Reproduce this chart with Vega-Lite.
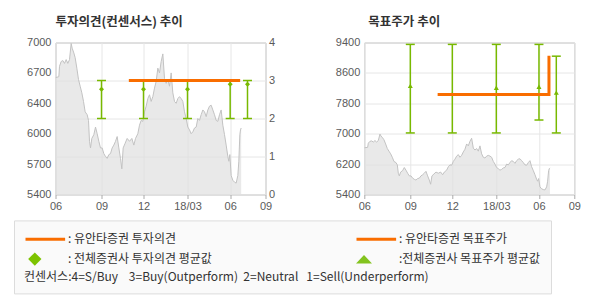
{
  "$schema": "https://vega.github.io/schema/vega-lite/v6.json",
  "background": "white",
  "padding": {"left": 12.5, "top": 15.5, "right": 5, "bottom": 0},
  "config": {
    "view": {"stroke": "#b4b4b4", "strokeWidth": 1},
    "axis": {"labelFont": "Liberation Sans", "labelFontSize": 11, "labelColor": "#5a5a5a", "domain": false, "ticks": false, "gridColor": "#e6e6e6", "gridWidth": 1, "labelOverlap": false},
    "title": {"font": "Noto Sans CJK KR", "fontSize": 12.5, "fontWeight": "bold", "color": "#333333"}
  },
  "datasets": {
    "price": [
      {"day": 0, "price": 6630}, {"day": 5, "price": 6640}, {"day": 6, "price": 6750}, {"day": 8.5, "price": 6800},
      {"day": 11, "price": 6810}, {"day": 13.5, "price": 6780}, {"day": 16, "price": 6820}, {"day": 18.5, "price": 6780},
      {"day": 21, "price": 6820}, {"day": 23.5, "price": 6990}, {"day": 25, "price": 6940}, {"day": 27.5, "price": 6890},
      {"day": 29.5, "price": 6840}, {"day": 32, "price": 6730}, {"day": 34.5, "price": 6610}, {"day": 37, "price": 6540},
      {"day": 39.5, "price": 6470}, {"day": 42, "price": 6380}, {"day": 44.5, "price": 6270}, {"day": 47.5, "price": 6240},
      {"day": 49.5, "price": 6180}, {"day": 51, "price": 5960}, {"day": 52.5, "price": 5890}, {"day": 54.5, "price": 5990},
      {"day": 57.5, "price": 6030}, {"day": 60, "price": 6110}, {"day": 62.5, "price": 6040}, {"day": 65, "price": 5960},
      {"day": 67.5, "price": 5890}, {"day": 70, "price": 5890}, {"day": 72.5, "price": 5830}, {"day": 75, "price": 5800},
      {"day": 77.5, "price": 5780}, {"day": 80, "price": 5820}, {"day": 82.5, "price": 5830}, {"day": 85, "price": 5890},
      {"day": 87.5, "price": 5920}, {"day": 90, "price": 5960}, {"day": 92.5, "price": 6010}, {"day": 95, "price": 5890},
      {"day": 97.5, "price": 5780}, {"day": 99.5, "price": 5670}, {"day": 101.5, "price": 5890}, {"day": 104.5, "price": 5940},
      {"day": 107.5, "price": 5990}, {"day": 111, "price": 5960}, {"day": 114.5, "price": 5990}, {"day": 117.5, "price": 5920},
      {"day": 120, "price": 5990}, {"day": 123.5, "price": 6040}, {"day": 126, "price": 6130}, {"day": 128.5, "price": 6180},
      {"day": 131, "price": 6170}, {"day": 133.5, "price": 6270}, {"day": 136, "price": 6330}, {"day": 138.5, "price": 6410},
      {"day": 141, "price": 6450}, {"day": 143.5, "price": 6380}, {"day": 146, "price": 6430}, {"day": 148.5, "price": 6520},
      {"day": 151, "price": 6590}, {"day": 153.5, "price": 6730}, {"day": 156, "price": 6680}, {"day": 158.5, "price": 6800},
      {"day": 161, "price": 6880}, {"day": 163.5, "price": 6620}, {"day": 166, "price": 6570}, {"day": 168.5, "price": 6610},
      {"day": 171, "price": 6540}, {"day": 173.5, "price": 6680}, {"day": 176, "price": 6470}, {"day": 178.5, "price": 6380},
      {"day": 181, "price": 6360}, {"day": 183.5, "price": 6410}, {"day": 186, "price": 6430}, {"day": 188.5, "price": 6410},
      {"day": 191, "price": 6380}, {"day": 193.5, "price": 6270}, {"day": 196, "price": 6200}, {"day": 198.5, "price": 6110},
      {"day": 201, "price": 6080}, {"day": 203.5, "price": 6040}, {"day": 206, "price": 6060}, {"day": 208.5, "price": 6100},
      {"day": 211, "price": 6110}, {"day": 213.5, "price": 6200}, {"day": 216, "price": 6180}, {"day": 218.5, "price": 6240},
      {"day": 221, "price": 6290}, {"day": 223.5, "price": 6270}, {"day": 226, "price": 6220}, {"day": 228.5, "price": 6290},
      {"day": 231, "price": 6330}, {"day": 233.5, "price": 6340}, {"day": 236, "price": 6290}, {"day": 238.5, "price": 6240},
      {"day": 241, "price": 6180}, {"day": 243.5, "price": 6170}, {"day": 246, "price": 6240}, {"day": 248.5, "price": 6290},
      {"day": 251, "price": 6130}, {"day": 253.5, "price": 6030}, {"day": 256, "price": 5920}, {"day": 258.5, "price": 5800},
      {"day": 260, "price": 5750}, {"day": 261.5, "price": 5820}, {"day": 263.5, "price": 5600}, {"day": 266, "price": 5550},
      {"day": 268.5, "price": 5530}, {"day": 271, "price": 5520}, {"day": 273.5, "price": 5600}, {"day": 275, "price": 5750},
      {"day": 276.5, "price": 6030}, {"day": 277.5, "price": 6080}, {"day": 278.5, "price": 6100}
    ],
    "opinion": [
      {"day": 69, "lo": 2, "hi": 3, "mean": 2.77},
      {"day": 132, "lo": 2, "hi": 3, "mean": 2.77},
      {"day": 198, "lo": 2, "hi": 3, "mean": 2.77},
      {"day": 262, "lo": 2, "hi": 3, "mean": 2.9},
      {"day": 288, "lo": 2, "hi": 3, "mean": 2.9}
    ],
    "yuanta_opinion": [{"day": 110, "op": 3}, {"day": 277, "op": 3}],
    "target": [
      {"day": 69, "lo": 7020, "hi": 9350, "mean": 8260},
      {"day": 132, "lo": 7020, "hi": 9350, "mean": 8050},
      {"day": 198, "lo": 7020, "hi": 9350, "mean": 8210},
      {"day": 262, "lo": 7360, "hi": 9350, "mean": 8235},
      {"day": 288, "lo": 7020, "hi": 9040, "mean": 8080}
    ],
    "yuanta_target": [{"day": 110, "tp": 8030}, {"day": 277, "tp": 9050}],
    "legend": [
      {"series": "유안타증권 투자의견"},
      {"series": "전체증권사 투자의견 평균값"},
      {"series": "유안타증권 목표주가"},
      {"series": "전체증권사 목표주가 평균값"}
    ]
  },
  "bounds": "flush",
  "spacing": 98.8,
  "resolve": {"scale": {"fill": "independent", "stroke": "independent", "shape": "independent"}},
  "hconcat": [
    {
      "width": 210,
      "height": 152,
      "title": {"text": "투자의견(컨센서스) 추이", "anchor": "start", "frame": "group", "offset": 8},
      "encoding": {
        "x": {"field": "day", "type": "quantitative", "title": null,
          "scale": {"domain": [0, 315], "nice": false, "zero": false},
          "axis": {"values": [0, 69, 132, 198, 262, 315], "tickCount": 10, "labelExpr": "['06','09','12','18/03','06','09'][indexof([0,69,132,198,262,315], datum.value)]", "grid": true, "ticks": true, "tickSize": 4, "tickColor": "#aaaaaa", "labelPadding": 2, "labelFlush": false, "labelOverlap": false}}
      },
      "layer": [
        {
          "data": {"name": "price"},
          "mark": {"type": "area", "color": "#e0e0e0", "clip": true, "line": {"color": "#c2c2c2", "strokeWidth": 1}},
          "encoding": {
            "y": {"field": "price", "type": "quantitative", "title": null,
              "scale": {"domain": [5400, 7000], "nice": false, "zero": false},
              "axis": {"orient": "left", "values": [5400, 5720, 6040, 6360, 6680, 7000], "tickCount": 10, "labelExpr": "format(round(datum.value/100)*100, 'd')", "grid": false, "labelPadding": 4.5, "labelOverlap": false}}
          }
        },
        {
          "layer": [
            {
              "data": {"name": "opinion"},
              "mark": {"type": "rule", "color": "#78b900", "strokeWidth": 1.5},
              "encoding": {
                "y": {"field": "lo", "type": "quantitative", "title": null,
                  "scale": {"domain": [0, 4], "nice": false, "zero": false},
                  "axis": {"orient": "right", "values": [0, 1, 2, 3, 4], "tickCount": 10, "format": "d", "grid": true, "labelPadding": 3, "labelOverlap": false}},
                "y2": {"field": "hi"}
              }
            },
            {
              "data": {"name": "opinion"},
              "mark": {"type": "point", "shape": "stroke", "size": 81, "strokeWidth": 1.5, "color": "#78b900", "opacity": 1},
              "encoding": {"y": {"field": "lo", "type": "quantitative", "title": null}}
            },
            {
              "data": {"name": "opinion"},
              "mark": {"type": "point", "shape": "stroke", "size": 81, "strokeWidth": 1.5, "color": "#78b900", "opacity": 1},
              "encoding": {"y": {"field": "hi", "type": "quantitative", "title": null}}
            },
            {
              "data": {"name": "opinion"},
              "mark": {"type": "point", "shape": "diamond", "filled": true, "size": 25, "color": "#78b900", "opacity": 1},
              "encoding": {"y": {"field": "mean", "type": "quantitative", "title": null}}
            },
            {
              "data": {"name": "yuanta_opinion"},
              "mark": {"type": "line", "color": "#f96d00", "strokeWidth": 3},
              "encoding": {"y": {"field": "op", "type": "quantitative", "title": null}}
            },
            {
              "data": {"name": "legend"},
              "mark": {"type": "point", "filled": true, "opacity": 0},
              "encoding": {
                "fill": {"field": "series", "type": "nominal",
                  "scale": {"domain": ["유안타증권 투자의견", "전체증권사 투자의견 평균값", "유안타증권 목표주가", "전체증권사 목표주가 평균값"], "range": ["#f96d00", "#7dc300", "#f96d00", "#83c31e"]},
                  "legend": {"title": "컨센서스:4=S/Buy\u00a0\u00a0\u00a0\u00a03=Buy(Outperform)\u00a0\u00a02=Neutral\u00a0\u00a0\u00a01=Sell(Underperform)", "titleOrient": "bottom", "titleAnchor": "start", "titleAlign": "left", "orient": "none", "legendX": -41.5, "legendY": 177.9, "columns": 2, "columnPadding": 138, "rowPadding": 0.2, "padding": 10, "fillColor": "#fafafa", "strokeColor": "#dcdcdc", "symbolSize": 196, "symbolStrokeWidth": 3, "symbolOpacity": 1, "labelOffset": 26.9, "labelFont": "Noto Sans CJK KR", "labelFontSize": 12, "labelColor": "#333333", "labelLimit": 400, "titleFont": "Noto Sans CJK KR", "titleFontSize": 12, "titleFontWeight": "normal", "titleColor": "#333333", "titlePadding": 1, "titleLimit": 600, "labelExpr": "datum.label == '전체증권사 목표주가 평균값' ? ':' + datum.label : ': ' + datum.label"}},
                "stroke": {"field": "series", "type": "nominal",
                  "scale": {"domain": ["유안타증권 투자의견", "전체증권사 투자의견 평균값", "유안타증권 목표주가", "전체증권사 목표주가 평균값"], "range": ["#f96d00", "transparent", "#f96d00", "transparent"]},
                  "legend": {"title": "컨센서스:4=S/Buy\u00a0\u00a0\u00a0\u00a03=Buy(Outperform)\u00a0\u00a02=Neutral\u00a0\u00a0\u00a01=Sell(Underperform)", "titleOrient": "bottom", "titleAnchor": "start", "titleAlign": "left", "orient": "none", "legendX": -41.5, "legendY": 177.9, "columns": 2, "columnPadding": 138, "rowPadding": 0.2, "padding": 10, "fillColor": "#fafafa", "strokeColor": "#dcdcdc", "symbolSize": 196, "symbolStrokeWidth": 3, "symbolOpacity": 1, "labelOffset": 26.9, "labelFont": "Noto Sans CJK KR", "labelFontSize": 12, "labelColor": "#333333", "labelLimit": 400, "titleFont": "Noto Sans CJK KR", "titleFontSize": 12, "titleFontWeight": "normal", "titleColor": "#333333", "titlePadding": 1, "titleLimit": 600, "labelExpr": "datum.label == '전체증권사 목표주가 평균값' ? ':' + datum.label : ': ' + datum.label"}},
                "shape": {"field": "series", "type": "nominal",
                  "scale": {"domain": ["유안타증권 투자의견", "전체증권사 투자의견 평균값", "유안타증권 목표주가", "전체증권사 목표주가 평균값"], "range": ["M-1,0H4.66", "M-0.62,0L0.33,-0.95L1.28,0L0.33,0.95Z", "M-1,0H4.66", "M-1.07,0.64L0.07,-0.6L1.21,0.64Z"]},
                  "legend": {"title": "컨센서스:4=S/Buy\u00a0\u00a0\u00a0\u00a03=Buy(Outperform)\u00a0\u00a02=Neutral\u00a0\u00a0\u00a01=Sell(Underperform)", "titleOrient": "bottom", "titleAnchor": "start", "titleAlign": "left", "orient": "none", "legendX": -41.5, "legendY": 177.9, "columns": 2, "columnPadding": 138, "rowPadding": 0.2, "padding": 10, "fillColor": "#fafafa", "strokeColor": "#dcdcdc", "symbolSize": 196, "symbolStrokeWidth": 3, "symbolOpacity": 1, "labelOffset": 26.9, "labelFont": "Noto Sans CJK KR", "labelFontSize": 12, "labelColor": "#333333", "labelLimit": 400, "titleFont": "Noto Sans CJK KR", "titleFontSize": 12, "titleFontWeight": "normal", "titleColor": "#333333", "titlePadding": 1, "titleLimit": 600, "labelExpr": "datum.label == '전체증권사 목표주가 평균값' ? ':' + datum.label : ': ' + datum.label"}}
              }
            }
          ]
        }
      ],
      "resolve": {"scale": {"y": "independent"}}
    },
    {
      "width": 210,
      "height": 152,
      "title": {"text": "목표주가 추이", "anchor": "start", "frame": "group", "offset": 8, "dx": 4},
      "encoding": {
        "x": {"field": "day", "type": "quantitative", "title": null,
          "scale": {"domain": [0, 315], "nice": false, "zero": false},
          "axis": {"values": [0, 69, 132, 198, 262, 315], "tickCount": 10, "labelExpr": "['06','09','12','18/03','06','09'][indexof([0,69,132,198,262,315], datum.value)]", "grid": true, "ticks": true, "tickSize": 4, "tickColor": "#aaaaaa", "labelPadding": 2, "labelFlush": false, "labelOverlap": false}}
      },
      "layer": [
        {
          "data": {"name": "price"},
          "mark": {"type": "area", "color": "#e0e0e0", "clip": true, "line": {"color": "#c2c2c2", "strokeWidth": 1}},
          "encoding": {
            "y": {"field": "price", "type": "quantitative", "title": null,
              "scale": {"domain": [5400, 9400], "nice": false, "zero": false},
              "axis": {"orient": "left", "values": [5400, 6200, 7000, 7800, 8600, 9400], "tickCount": 10, "format": "d", "grid": true, "labelPadding": 4.5, "labelOverlap": false}}
          }
        },
        {
          "data": {"name": "target"},
          "mark": {"type": "rule", "color": "#78b900", "strokeWidth": 1.5},
          "encoding": {"y": {"field": "lo", "type": "quantitative", "title": null}, "y2": {"field": "hi"}}
        },
        {
          "data": {"name": "target"},
          "mark": {"type": "point", "shape": "stroke", "size": 81, "strokeWidth": 1.5, "color": "#78b900", "opacity": 1},
          "encoding": {"y": {"field": "lo", "type": "quantitative", "title": null}}
        },
        {
          "data": {"name": "target"},
          "mark": {"type": "point", "shape": "stroke", "size": 81, "strokeWidth": 1.5, "color": "#78b900", "opacity": 1},
          "encoding": {"y": {"field": "hi", "type": "quantitative", "title": null}}
        },
        {
          "data": {"name": "target"},
          "mark": {"type": "point", "shape": "triangle-up", "filled": true, "size": 25, "color": "#78b900", "opacity": 1},
          "encoding": {"y": {"field": "mean", "type": "quantitative", "title": null}}
        },
        {
          "data": {"name": "yuanta_target"},
          "mark": {"type": "line", "color": "#f96d00", "strokeWidth": 3, "interpolate": "step-after"},
          "encoding": {"y": {"field": "tp", "type": "quantitative", "title": null}}
        }
      ]
    }
  ]
}
